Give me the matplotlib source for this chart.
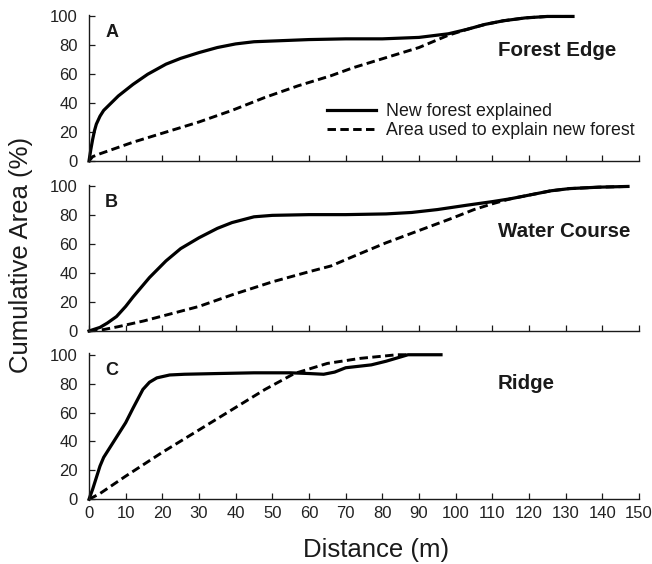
import matplotlib
matplotlib.use('Agg')
import matplotlib.pyplot as plt

plt.rcParams['font.family'] = ['Liberation Sans', 'DejaVu Sans']

# Panel A - forest edge
a_new_x = [0, 0.5, 1, 1.5, 2, 3, 4, 6, 8, 12, 16, 21, 25, 30, 35, 40, 45, 50, 60, 70, 80, 90, 98, 103, 108, 113, 119, 125, 132]
a_new_y = [0, 8, 15, 21, 25.5, 31, 35, 40, 45, 53, 60, 67, 71, 75, 78.5, 81, 82.5, 83, 84, 84.5, 84.5, 85.5, 88, 91, 94.5, 97, 99, 100, 100]
a_area_x = [0, 1, 3, 12, 21, 30, 39, 48, 57, 66, 72, 81, 90, 98, 103, 108, 113, 119, 125, 132]
a_area_y = [0, 3, 5, 13, 20, 27, 35, 44, 52, 59, 64.5, 71.5, 78.5, 87, 91, 94.5, 97, 99, 100, 100]

# Panel B - water course
b_new_x = [0, 3, 5, 7.5, 10, 12, 16.5, 21, 25, 30, 35, 39, 45, 50, 60, 70, 81, 88, 95, 103, 110, 115, 121, 126, 131, 139, 147]
b_new_y = [0, 2.5, 5.5, 10, 17, 23.5, 37, 48.5, 57, 64.5, 71, 75, 79, 80, 80.5, 80.5, 81, 82, 84, 87, 89.5, 91.5, 94.5, 97, 98.5, 99.5, 100]
b_area_x = [0, 4, 8, 15, 21, 30, 39, 50, 60, 66, 72, 81, 90, 99, 105, 110, 115, 121, 126, 131, 139, 147]
b_area_y = [0, 1, 3, 7, 11, 17, 25, 34, 41, 45, 51.5, 61, 69.5, 78, 84, 88, 91.5, 94.5, 97, 98.5, 99.5, 100]

# Panel C - ridge
c_new_x = [0, 1, 2, 3, 4, 5, 7.5, 10, 12, 14.7, 16.5, 18.5, 22, 26, 35, 45, 55, 60, 64, 67, 70, 77, 81, 85, 87, 96]
c_new_y = [0, 7, 15, 23, 29, 33, 43, 53, 63, 76, 81, 84, 86, 86.5, 87, 87.5, 87.5, 87, 86.5, 88, 91, 93, 95.5, 98.5, 100, 100]
c_area_x = [0, 3, 10, 20, 30, 39, 48, 56, 65, 74, 80, 84, 87]
c_area_y = [0, 4, 16, 32.5, 48, 62, 76, 87, 94, 97.5, 99, 100, 100]

panels = [
    ('A', 'Forest Edge', 76.7, a_new_x, a_new_y, a_area_x, a_area_y),
    ('B', 'Water Course', 68.5, b_new_x, b_new_y, b_area_x, b_area_y),
    ('C', 'Ridge', 80.3, c_new_x, c_new_y, c_area_x, c_area_y),
]
legend_labels = ['New forest explained', 'Area used to explain new forest']
x_ticks = list(range(0, 151, 10))
y_ticks = [0, 20, 40, 60, 80, 100]

W, H = 652, 564
fig = plt.figure(figsize=(W / 100, H / 100), dpi=100)

# axes boxes in pixels: (left, y of zero, y of 100)
boxes = [(89, 161, 15), (89, 331, 185), (89, 499.3, 353.3)]
right_px = 639
ink = '#1a1a1a'

axes = []
for (letter, name, name_y, nx, ny, ax_x, ax_y), (l, y0, y100) in zip(panels, boxes):
    ax = fig.add_axes([l / W, (H - y0) / H, (right_px - l) / W, (y0 - y100) / H])
    ax.plot(nx, ny, '-', color='black', lw=2.3, clip_on=False, solid_joinstyle='round')
    ax.plot(ax_x, ax_y, '--', color='black', lw=2.1, dashes=(2.9, 1.5), clip_on=False)
    ax.set_xlim(0, 150)
    ax.set_ylim(0, 101)
    ax.set_xticks(x_ticks)
    ax.set_yticks(y_ticks)
    for s in ['top', 'right']:
        ax.spines[s].set_visible(False)
    for s in ['left', 'bottom']:
        ax.spines[s].set_linewidth(1.0)
        ax.spines[s].set_color(ink)
    ax.tick_params(direction='in', length=4, width=0.9, color=ink,
                   labelsize=12, labelcolor='#222222')
    ax.tick_params(axis='y', pad=8)
    ax.tick_params(axis='x', pad=5)
    ax.text(4.4, 89, letter, fontsize=13, fontweight='bold', va='center', color=ink)
    ax.text(111.5, name_y, name, fontsize=14.8, fontweight='bold', va='center', color=ink)
    axes.append(ax)

axes[0].tick_params(axis='x', labelbottom=False)
axes[1].tick_params(axis='x', labelbottom=False)

leg = axes[0].legend(legend_labels, loc='upper left', frameon=False,
                     bbox_to_anchor=(327 / W, 1 - 103 / H), bbox_transform=fig.transFigure,
                     fontsize=12.8, handlelength=2.75, handletextpad=0.55,
                     labelspacing=0.1, borderpad=0, borderaxespad=0)
for t in leg.get_texts():
    t.set_color(ink)

fig.text(376 / W, 1 - 550 / H, 'Distance (m)', fontsize=18.5, ha='center', va='center', color=ink)
fig.text(21 / W, 1 - 255 / H, 'Cumulative Area (%)', fontsize=18.5, rotation=90,
         ha='center', va='center', color=ink)

fig.savefig('out.png', dpi=100)
